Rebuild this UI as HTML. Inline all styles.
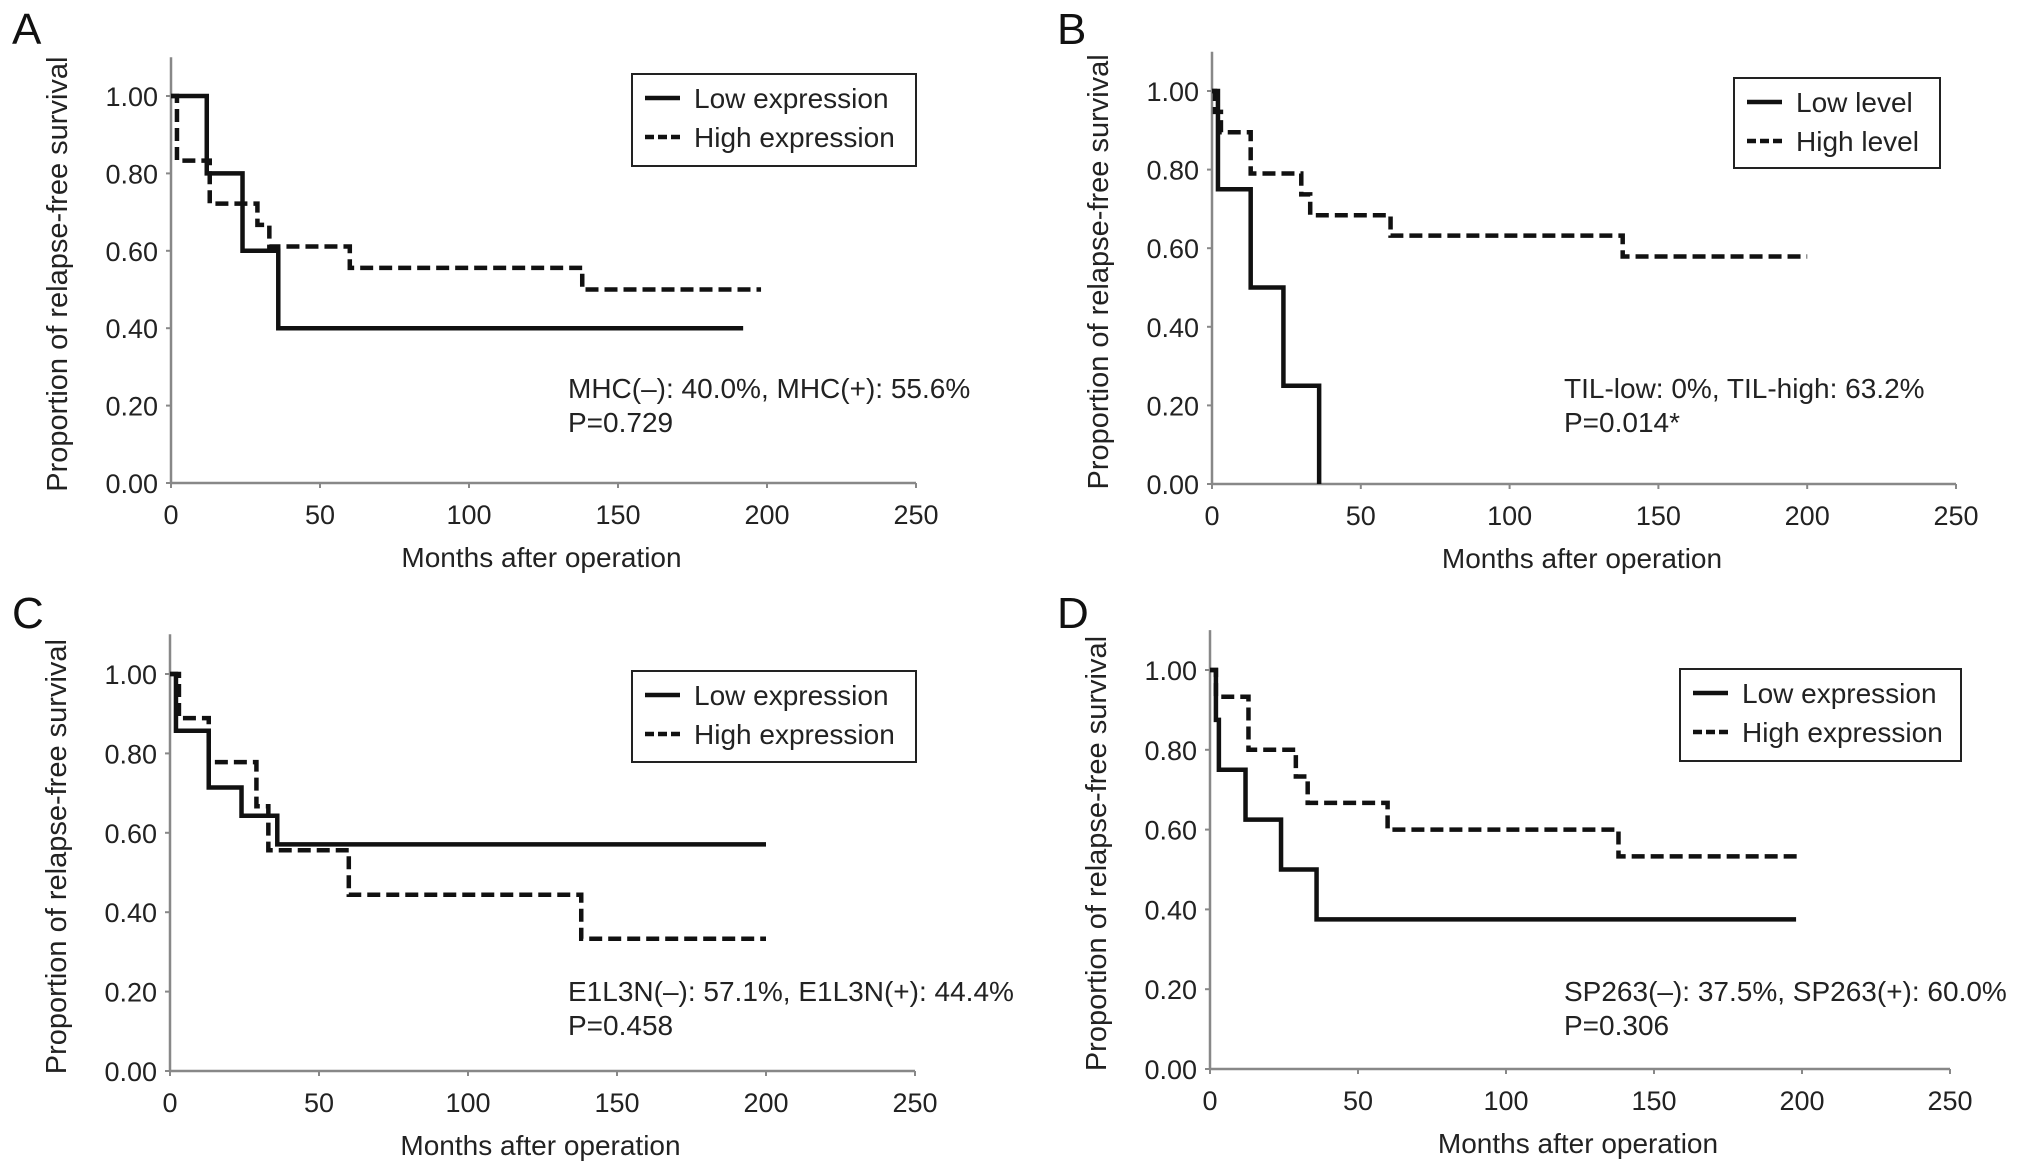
<!DOCTYPE html>
<html><head><meta charset="utf-8"><style>
html,body{margin:0;padding:0;background:#fff;}
svg{display:block;font-family:"Liberation Sans",sans-serif;}
</style></head><body>
<svg id="fig" width="2032" height="1172" viewBox="0 0 2032 1172"></svg>
<script>
// ---- data ----
const xTicks = [0, 50, 100, 150, 200, 250];
const yTicks = [0, 0.2, 0.4, 0.6, 0.8, 1.0];
const yTickLabels = ["0.00","0.20","0.40","0.60","0.80","1.00"];
const aLowT = [0, 12, 24, 36, 192];
const aLowS = [1, 0.8, 0.6, 0.4, 0.4];
const aHighT = [0, 2, 13, 29, 33, 60, 138, 198];
const aHighS = [1, 0.833, 0.722, 0.667, 0.611, 0.556, 0.5, 0.5];
const bLowT = [0, 2, 13, 24, 36];
const bLowS = [1, 0.75, 0.5, 0.25, 0];
const bHighT = [0, 1, 3, 13, 30, 33, 60, 138, 200];
const bHighS = [1, 0.947, 0.895, 0.79, 0.737, 0.684, 0.632, 0.579, 0.579];
const cLowT = [0, 2, 13, 24, 36, 200];
const cLowS = [1, 0.857, 0.714, 0.643, 0.571, 0.571];
const cHighT = [0, 3, 13, 29, 33, 60, 138, 200];
const cHighS = [1, 0.889, 0.778, 0.667, 0.556, 0.444, 0.333, 0.333];
const dLowT = [0, 2, 3, 12, 24, 36, 198];
const dLowS = [1, 0.875, 0.75, 0.625, 0.5, 0.375, 0.375];
const dHighT = [0, 2, 13, 29, 33, 60, 138, 199];
const dHighS = [1, 0.933, 0.8, 0.733, 0.667, 0.6, 0.533, 0.533];

const panels = [
 {id:"a", letter:"A", lx:12, ly:44, x0:171, x1:916, y0:483, y1:96,
  low:[aLowT,aLowS], high:[aHighT,aHighS], leg:[632,74,284,92], legLabels:["Low expression","High expression"],
  ann:["MHC(\u2013): 40.0%, MHC(+): 55.6%","P=0.729"], annX:568, annY:398},
 {id:"b", letter:"B", lx:1057, ly:44, x0:1212, x1:1956, y0:484, y1:91,
  low:[bLowT,bLowS], high:[bHighT,bHighS], leg:[1734,78,206,90], legLabels:["Low level","High level"],
  ann:["TIL-low: 0%, TIL-high: 63.2%","P=0.014*"], annX:1564, annY:398},
 {id:"c", letter:"C", lx:12, ly:628, x0:170, x1:915, y0:1071, y1:674,
  low:[cLowT,cLowS], high:[cHighT,cHighS], leg:[632,671,284,91], legLabels:["Low expression","High expression"],
  ann:["E1L3N(\u2013): 57.1%, E1L3N(+): 44.4%","P=0.458"], annX:568, annY:1001},
 {id:"d", letter:"D", lx:1057, ly:628, x0:1210, x1:1950, y0:1069, y1:670,
  low:[dLowT,dLowS], high:[dHighT,dHighS], leg:[1680,669,281,92], legLabels:["Low expression","High expression"],
  ann:["SP263(\u2013): 37.5%, SP263(+): 60.0%","P=0.306"], annX:1564, annY:1001}
];

const NS = "http://www.w3.org/2000/svg";
const svg = document.getElementById("fig");
function mk(tag, attrs, parent, text){
  const e = document.createElementNS(NS, tag);
  for (const k in attrs) e.setAttribute(k, attrs[k]);
  if (text !== undefined) e.textContent = text;
  (parent||svg).appendChild(e);
  return e;
}

panels.forEach(p => {
  const g = mk("g", {});
  
  
  const sx = v => p.x0 + (v/250)*(p.x1-p.x0);
  const sy = v => p.y0 - v*(p.y0-p.y1);

  const lt = mk("text", {x:p.lx, y:p.ly, "font-size":44, fill:"#111"}, g, p.letter);
  
  

  const ya = mk("line", {x1:p.x0, y1:sy(1.1), x2:p.x0, y2:p.y0, stroke:"#888", "stroke-width":2.5}, g);
  
  
  const xa = mk("line", {x1:p.x0, y1:p.y0, x2:p.x1, y2:p.y0, stroke:"#888", "stroke-width":2.5}, g);
  
  

  xTicks.forEach(t => {
    mk("line", {x1:sx(t), y1:p.y0, x2:sx(t), y2:p.y0+5, stroke:"#888", "stroke-width":2}, g);
    const tl = mk("text", {x:sx(t), y:p.y0+41, "font-size":27, "text-anchor":"middle", fill:"#222"}, g, String(t));
    
    
  });
  yTicks.forEach((t,i) => {
    mk("line", {x1:p.x0-5, y1:sy(t), x2:p.x0, y2:sy(t), stroke:"#888", "stroke-width":2}, g);
    const tl = mk("text", {x:p.x0-13, y:sy(t)+10, "font-size":27, "text-anchor":"end", fill:"#222"}, g, yTickLabels[i]);
    
    
  });

  const xt = mk("text", {x:(p.x0+p.x1)/2 - 2, y:p.y0+84, "font-size":28, "text-anchor":"middle", fill:"#222"}, g, "Months after operation");
  
  
  const ycx = p.x0 - 104, ycy = (p.y0 + sy(1.1))/2 + 4;
  const yt = mk("text", {x:ycx, y:ycy, "font-size":29, "text-anchor":"middle", fill:"#222",
    transform:`rotate(-90 ${ycx} ${ycy})`}, g, "Proportion of relapse-free survival");
  
  

  function stepPath(T, S){
    let d = `M${sx(T[0])},${sy(S[0])}`;
    for (let i=1;i<T.length;i++){
      d += ` H${sx(T[i])} V${sy(S[i])}`;
    }
    return d;
  }
  const hi = mk("path", {d:stepPath(p.high[0],p.high[1]), fill:"none", stroke:"#111", "stroke-width":4.5, "stroke-dasharray":"13,6"}, g);
  
  
  const lo = mk("path", {d:stepPath(p.low[0],p.low[1]), fill:"none", stroke:"#111", "stroke-width":4.5}, g);
  
  

  const [lx, ly, lw, lh] = p.leg;
  const lg = mk("g", {}, g);
  
  
  mk("rect", {x:lx, y:ly, width:lw, height:lh, fill:"#fff", stroke:"#222", "stroke-width":2}, lg);
  mk("line", {x1:lx+13, y1:ly+24, x2:lx+48, y2:ly+24, stroke:"#111", "stroke-width":4.5}, lg);
  mk("line", {x1:lx+13, y1:ly+63, x2:lx+48, y2:ly+63, stroke:"#111", "stroke-width":4.5, "stroke-dasharray":"9,4"}, lg);
  const e1 = mk("text", {x:lx+62, y:ly+34, "font-size":28, fill:"#222"}, lg, p.legLabels[0]);
  
  
  const e2 = mk("text", {x:lx+62, y:ly+73, "font-size":28, fill:"#222"}, lg, p.legLabels[1]);
  
  

  const a1 = mk("text", {x:p.annX, y:p.annY, "font-size":28, fill:"#222"}, g, p.ann[0]);
  
  
  const a2 = mk("text", {x:p.annX, y:p.annY+34, "font-size":28, fill:"#222"}, g, p.ann[1]);
  
  
});
</script>
</body></html>
